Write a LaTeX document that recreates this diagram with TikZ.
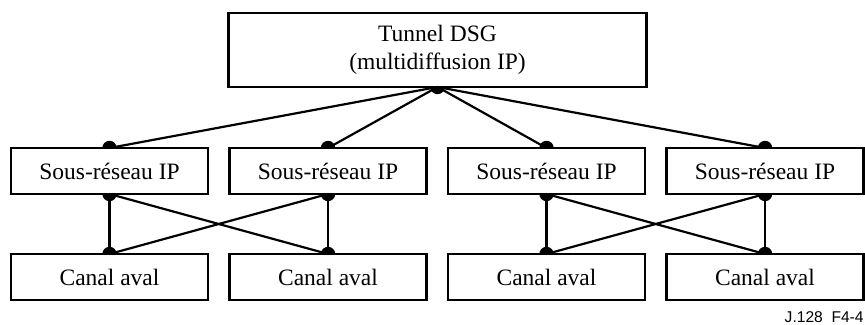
\documentclass[tikz,border=0pt]{standalone}
\usepackage{fontspec}
\setmainfont{Liberation Serif}
\setsansfont{Liberation Sans}
\usetikzlibrary{positioning}

\begin{document}
\begin{tikzpicture}[
        block/.style={rectangle, draw, line width=1.3pt, outer sep=0pt, minimum width=98.5pt, minimum height=23pt, align=center, font=\fontsize{11.75}{14}\selectfont},
        link/.style={line width=1.1pt},
        dot/.style={fill=black},
        node distance=30pt and 10.75pt
    ]
    \useasboundingbox (0,0) rectangle (432.5pt,-162.5pt);

    \node[block, minimum width=209pt, minimum height=37pt] (dsg) at (218.75pt,-25pt) {Tunnel DSG\\(multidiffusion IP)};

    \node[block] (sr1) at (54.75pt,-85.5pt) {Sous-réseau IP};
    \node[block, right=of sr1] (sr2) {Sous-réseau IP};
    \node[block, right=of sr2] (sr3) {Sous-réseau IP};
    \node[block, right=of sr3] (sr4) {Sous-réseau IP};

    \node[block, below=of sr1] (ca1) {Canal aval};
    \node[block, below=of sr2] (ca2) {Canal aval};
    \node[block, below=of sr3] (ca3) {Canal aval};
    \node[block, below=of sr4] (ca4) {Canal aval};

    \node[anchor=base east, font=\fontsize{7.8}{8}\sffamily, inner sep=0pt] (ref) at (432pt,-161pt) {J.128\ \ F4-4};

    % tunnel vers sous-reseaux
    \foreach \i in {1,...,4}
        \draw[link] (dsg.south) -- (sr\i.north);

    % sous-reseaux vers canaux
    \foreach \a/\b in {1/2,3/4} {
        \draw[link] (sr\a.south) -- (ca\a.north);
        \draw[link] (sr\b.south) -- (ca\b.north);
        \draw[link] (sr\a.south) -- (ca\b.north);
        \draw[link] (sr\b.south) -- (ca\a.north);
    }

    % points de connexion (demi-disques)
    \fill[dot] (dsg.south) ++(-3.6pt,0) arc (180:360:3.6pt) -- cycle;
    \foreach \i in {1,...,4} {
        \fill[dot] (sr\i.north) ++(-3.6pt,0) arc (180:0:3.6pt) -- cycle;
        \fill[dot] (sr\i.south) ++(-3.6pt,0) arc (180:360:3.6pt) -- cycle;
        \fill[dot] (ca\i.north) ++(-3.6pt,0) arc (180:0:3.6pt) -- cycle;
    }
\end{tikzpicture}
\end{document}
